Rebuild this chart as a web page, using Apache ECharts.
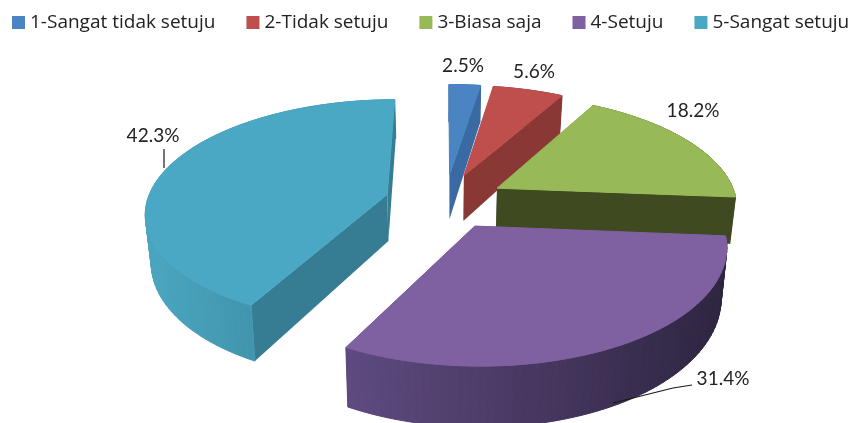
<!DOCTYPE html>
<html>
<head>
<meta charset="utf-8">
<style>
html, body { margin: 0; padding: 0; background: #fff; }
#main { width: 853px; height: 423px; }
</style>
</head>
<body>
<div id="main"></div>
<script src="https://cdn.jsdelivr.net/npm/echarts@6/dist/echarts.min.js"></script>
<script>
// data
var categories = ['1-Sangat tidak setuju', '2-Tidak setuju', '3-Biasa saja', '4-Setuju', '5-Sangat setuju'];
var percents = [2.5, 5.6, 18.2, 31.4, 42.3];

// look of each slice
var topColors = ['#4a84c2', '#bf4f4c', '#98b957', '#7f60a0', '#4aa8c4'];
var faceColors = ['#3a6aa3', '#8a3836', '#3f4a21', '#4a3a60', '#367c92'];
var wallColors = [
    ['#3a6aa3', '#3a6aa3'],
    ['#8a3836', '#8a3836'],
    ['#3f4a21', '#3f4a21'],
    ['#5e4a80', '#2e2540'],
    ['#4aa6bf', '#357f95']
];
var seriesZ = [2, 3, 4, 6, 5];

// label text anchor and leader line, in page pixels
var labelSpots = [[463, 66], [534, 72], [693, 111], [723, 379], [153, 136]];
var leaders = [null, null, null, [[692, 385], [673, 388], [613, 403]], [[164, 149], [164, 168]]];

// tilted pie projection
var cx = 445;
var cy = 201;
var radiusX = 240;
var radiusY = 110.7;
var perspective = 0.15;
var depth = 47;
var depthShrink = 0.02;
var explode = 0.25;

function project(u, v, w) {
    var s = 1 / (1 + perspective * v);
    return [
        cx + radiusX * u * s * (1 - depthShrink * w),
        cy - radiusY * v * s + depth * w * Math.pow(s, 1.3)
    ];
}

function sliceAngles(index) {
    var before = 0;
    for (var i = 0; i < index; i++) {
        before += percents[i];
    }
    return [before / 100 * Math.PI * 2, (before + percents[index]) / 100 * Math.PI * 2];
}

function renderSlice(index, api) {
    var value = api.value(0);
    var angles = sliceAngles(index);
    var mid = (angles[0] + angles[1]) / 2;
    var ou = Math.sin(mid) * explode;
    var ov = Math.cos(mid) * explode;

    var arcTop = [];
    var arcBottom = [];
    var steps = Math.max(6, Math.round(value * 2));
    var minX = Infinity;
    var maxX = -Infinity;
    for (var i = 0; i <= steps; i++) {
        var a = angles[0] + (angles[1] - angles[0]) * i / steps;
        arcTop.push(project(ou + Math.sin(a), ov + Math.cos(a), 0));
        arcBottom.push(project(ou + Math.sin(a), ov + Math.cos(a), 1));
        minX = Math.min(minX, arcTop[i][0]);
        maxX = Math.max(maxX, arcTop[i][0]);
    }
    var tipTop = project(ou, ov, 0);
    var tipBottom = project(ou, ov, 1);

    function poly(points, fill, edge) {
        return {
            type: 'polygon',
            shape: {points: points},
            style: {fill: fill, stroke: edge || null, lineWidth: 1}
        };
    }

    var last = steps;
    var children = [
        poly([tipTop, arcTop[0], arcBottom[0], tipBottom], faceColors[index]),
        poly([tipTop, arcTop[last], arcBottom[last], tipBottom], faceColors[index])
    ];
    // the outer wall goes in strips so its silhouette stays closed at the sides
    for (var j = 0; j < steps; j++) {
        var t = ((arcTop[j][0] + arcTop[j + 1][0]) / 2 - minX) / (maxX - minX);
        var shade = echarts.color.lerp(t, wallColors[index]);
        children.push(poly([arcTop[j], arcTop[j + 1], arcBottom[j + 1], arcBottom[j]], shade, shade));
    }
    children.push(poly([tipTop].concat(arcTop), topColors[index], topColors[index]));

    if (leaders[index]) {
        children.push({
            type: 'polyline',
            shape: {points: leaders[index]},
            style: {fill: null, stroke: '#1a1a1a', lineWidth: 1.2}
        });
    }
    children.push({
        type: 'text',
        style: {
            x: labelSpots[index][0],
            y: labelSpots[index][1],
            text: value.toFixed(1) + '%',
            fill: '#222',
            font: '19px Lato',
            align: 'center',
            verticalAlign: 'middle'
        }
    });
    return {type: 'group', children: children};
}

var chart = echarts.init(document.getElementById('main'), null, {renderer: 'canvas'});
var series = [];
categories.forEach(function (name, index) {
    series.push({
        name: name,
        type: 'custom',
        coordinateSystem: 'none',
        z: seriesZ[index],
        silent: true,
        itemStyle: {color: topColors[index]},
        data: [percents[index]],
        renderItem: function (params, api) {
            return renderSlice(index, api);
        }
    });
});

chart.setOption({
    animation: false,
    backgroundColor: '#fff',
    legend: {
        left: 12,
        top: 13,
        width: 841,
        padding: 0,
        icon: 'rect',
        itemWidth: 13,
        itemHeight: 13,
        itemGap: 31,
        selectedMode: false,
        data: categories,
        textStyle: {color: '#222', fontFamily: 'Open Sans', fontSize: 19}
    },
    series: series
});
</script>
</body>
</html>
